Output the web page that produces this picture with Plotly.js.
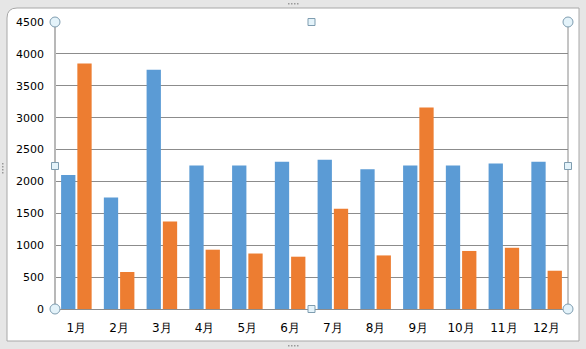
<!DOCTYPE html>
<html><head><meta charset="utf-8">
<script src="https://cdn.plot.ly/plotly-3.0.1.min.js"></script>
<style>body{margin:0;padding:0;background:#fff}#c{width:586px;height:349px}</style>
</head><body><div id="c"></div>
<script>
const months = ["1月","2月","3月","4月","5月","6月","7月","8月","9月","10月","11月","12月"];
const seriesA = [2100,1750,3750,2250,2250,2310,2340,2190,2250,2250,2280,2310];
const seriesB = [3850,580,1370,930,870,820,1570,840,3160,910,960,600];
const yTicks = [0,500,1000,1500,2000,2500,3000,3500,4000,4500];

const L=55,R=568,T=22,B=309;
const px = x => (x-L)/(R-L);
const py = y => (B-y)/(B-T);

const shapes = [];
shapes.push({type:'rect',xref:'paper',yref:'paper',x0:px(0),x1:px(586),y0:py(349),y1:py(0),fillcolor:'#e6e6e6',line:{width:0},layer:'below'});
shapes.push({type:'path',xref:'paper',yref:'paper',layer:'below',
  path:`M ${px(7)},${py(18)} Q ${px(7)},${py(8)} ${px(17)},${py(8)} L ${px(579)},${py(8)} L ${px(579)},${py(341)} L ${px(7)},${py(341)} Z`,
  fillcolor:'#ffffff',line:{color:'#a8a8a8',width:1}});
shapes.push({type:'line',xref:'paper',yref:'paper',x0:1,x1:1,y0:0,y1:1,line:{color:'#8a8a8a',width:1}});
shapes.push({type:'line',xref:'paper',yref:'paper',x0:0,x1:0,y0:0,y1:1,line:{color:'#b8b8b8',width:2}});
const circ=[[L,T],[R,T],[L,B],[R,B]];
circ.forEach(([x,y])=>shapes.push({type:'circle',xref:'paper',yref:'paper',x0:px(x-5),x1:px(x+5),y0:py(y+5),y1:py(y-5),fillcolor:'#e4f3fa',line:{color:'#7f9db0',width:1}}));
const sq=[[311.5,T],[311.5,B],[L,166],[R,166]];
sq.forEach(([x,y])=>shapes.push({type:'rect',xref:'paper',yref:'paper',x0:px(x-3.5),x1:px(x+3.5),y0:py(y+3.5),y1:py(y-3.5),fillcolor:'#e4f3fa',line:{color:'#7f9db0',width:1}}));
// grip dots
[[288,3],[288,345]].forEach(([x0,y0])=>{for(let i=0;i<4;i++){const x=x0+i*3;shapes.push({type:'rect',xref:'paper',yref:'paper',x0:px(x),x1:px(x+1.5),y0:py(y0+1.5),y1:py(y0),fillcolor:'#999',line:{width:0}});}});
[[2,163]].forEach(([x0,y0])=>{for(let i=0;i<4;i++){const y=y0+i*3;shapes.push({type:'rect',xref:'paper',yref:'paper',x0:px(x0),x1:px(x0+1.5),y0:py(y+1.5),y1:py(y),fillcolor:'#999',line:{width:0}});}});

const data = [
  {type:'bar',x:months,y:seriesA,marker:{color:'#5B9BD5'},hoverinfo:'none'},
  {type:'bar',x:months,y:seriesB,marker:{color:'#ED7D31'},hoverinfo:'none'}
];
const layout = {
  width:586,height:349,
  margin:{l:L,r:586-R,t:T,b:349-B,pad:0},
  paper_bgcolor:'#ffffff',plot_bgcolor:'rgba(0,0,0,0)',
  showlegend:false,barmode:'group',bargap:0.24,bargroupgap:0.12,
  font:{family:'DejaVu Sans, sans-serif',size:11,color:'#000'},
  xaxis:{type:'category',showgrid:false,zeroline:false,showline:false,ticks:'',tickfont:{size:12},ticklabelstandoff:10},
  yaxis:{range:[0,4500],tickvals:yTicks,ticktext:yTicks.map(String),showgrid:true,gridcolor:'#8c8c8c',gridwidth:1,
    zeroline:true,zerolinecolor:'#8c8c8c',zerolinewidth:1,showline:false,ticks:'',ticklabelstandoff:10,tickfont:{size:11}},
  shapes:shapes
};
Plotly.newPlot('c',data,layout,{displayModeBar:false,staticPlot:true});
</script></body></html>
